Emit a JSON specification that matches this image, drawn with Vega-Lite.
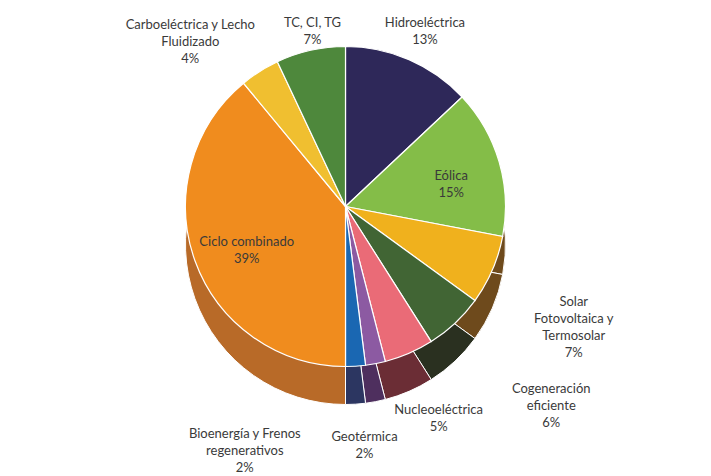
{
  "$schema": "https://vega.github.io/schema/vega-lite/v6.json",
  "width": 711,
  "height": 476,
  "autosize": {"type": "fit", "contains": "padding"},
  "padding": {"left": 0, "right": 20, "top": 0, "bottom": 36},
  "background": "white",
  "config": {"view": {"stroke": null}, "text": {"font": "Lato", "fontSize": 13, "color": "#3a3a3a", "lineBreak": "\n", "lineHeight": 17}},
  "data": {"values": [
    {"orden": 1, "fuente": "Hidroeléctrica", "valor": 13, "etiqueta": "Hidroeléctrica\n13%"},
    {"orden": 2, "fuente": "Eólica", "valor": 15, "etiqueta": "Eólica\n15%"},
    {"orden": 3, "fuente": "Solar", "valor": 7, "etiqueta": "Solar\nFotovoltaica y\nTermosolar\n7%"},
    {"orden": 4, "fuente": "Cogeneración", "valor": 6, "etiqueta": "Cogeneración\neficiente\n6%"},
    {"orden": 5, "fuente": "Nucleoeléctrica", "valor": 5, "etiqueta": "Nucleoeléctrica\n5%"},
    {"orden": 6, "fuente": "Geotérmica", "valor": 2, "etiqueta": "Geotérmica\n2%"},
    {"orden": 7, "fuente": "Bioenergía", "valor": 2, "etiqueta": "Bioenergía y Frenos\nregenerativos\n2%"},
    {"orden": 8, "fuente": "Ciclo combinado", "valor": 39, "etiqueta": "Ciclo combinado\n39%"},
    {"orden": 9, "fuente": "Carboeléctrica", "valor": 4, "etiqueta": "Carboeléctrica y Lecho\nFluidizado\n4%"},
    {"orden": 10, "fuente": "TC, CI, TG", "valor": 7, "etiqueta": "TC, CI, TG\n7%"}
  ]},
  "encoding": {
    "theta": {"field": "valor", "type": "quantitative", "stack": true},
    "order": {"field": "orden", "type": "quantitative"}
  },
  "layer": [
    {
      "mark": {"type": "arc", "radius": 160, "yOffset": 38, "stroke": "white", "strokeWidth": 1},
      "encoding": {"color": {"field": "fuente", "type": "nominal", "legend": null, "scale": {
        "domain": ["Hidroeléctrica", "Eólica", "Solar", "Cogeneración", "Nucleoeléctrica", "Geotérmica", "Bioenergía", "Ciclo combinado", "Carboeléctrica", "TC, CI, TG"],
        "range": ["#1f1b40", "#6e4a1c", "#6e4a1c", "#2a3020", "#6b2d35", "#4e2f5e", "#2c3661", "#b86a28", "#a8821e", "#35602a"]}}}
    },
    {
      "mark": {"type": "arc", "radius": 160, "stroke": "white", "strokeWidth": 1.2},
      "encoding": {"color": {"field": "fuente", "type": "nominal", "legend": null, "scale": {
        "domain": ["Hidroeléctrica", "Eólica", "Solar", "Cogeneración", "Nucleoeléctrica", "Geotérmica", "Bioenergía", "Ciclo combinado", "Carboeléctrica", "TC, CI, TG"],
        "range": ["#2e2859", "#84bd48", "#f0b11d", "#416534", "#ea6b77", "#8c5aa2", "#1a67b2", "#f08c1e", "#f0bf30", "#4e883c"]}}}
    },
    {"mark": {"type": "text", "radius": 200}, "encoding": {"text": {"condition": {"test": "datum.fuente === 'Hidroeléctrica'", "field": "etiqueta"}, "value": ""}}},
    {"mark": {"type": "text", "radius": 110}, "encoding": {"text": {"condition": {"test": "datum.fuente === 'Eólica'", "field": "etiqueta"}, "value": ""}}},
    {"mark": {"type": "text", "radius": 240, "dx": 8}, "encoding": {"text": {"condition": {"test": "datum.fuente === 'Solar'", "field": "etiqueta"}, "value": ""}}},
    {"mark": {"type": "text", "radius": 245, "dx": 38, "dy": 4}, "encoding": {"text": {"condition": {"test": "datum.fuente === 'Cogeneración'", "field": "etiqueta"}, "value": ""}}},
    {"mark": {"type": "text", "radius": 222, "dx": 5}, "encoding": {"text": {"condition": {"test": "datum.fuente === 'Nucleoeléctrica'", "field": "etiqueta"}, "value": ""}}},
    {"mark": {"type": "text", "radius": 235, "dx": -25}, "encoding": {"text": {"condition": {"test": "datum.fuente === 'Geotérmica'", "field": "etiqueta"}, "value": ""}}},
    {"mark": {"type": "text", "radius": 228, "dx": -115}, "encoding": {"text": {"condition": {"test": "datum.fuente === 'Bioenergía'", "field": "etiqueta"}, "value": ""}}},
    {"mark": {"type": "text", "radius": 105}, "encoding": {"text": {"condition": {"test": "datum.fuente === 'Ciclo combinado'", "field": "etiqueta"}, "value": ""}}},
    {"mark": {"type": "text", "radius": 215, "dx": -40}, "encoding": {"text": {"condition": {"test": "datum.fuente === 'Carboeléctrica'", "field": "etiqueta"}, "value": ""}}},
    {"mark": {"type": "text", "radius": 188, "dx": 8}, "encoding": {"text": {"condition": {"test": "datum.fuente === 'TC, CI, TG'", "field": "etiqueta"}, "value": ""}}}
  ],
  "resolve": {"scale": {"color": "independent"}}
}
